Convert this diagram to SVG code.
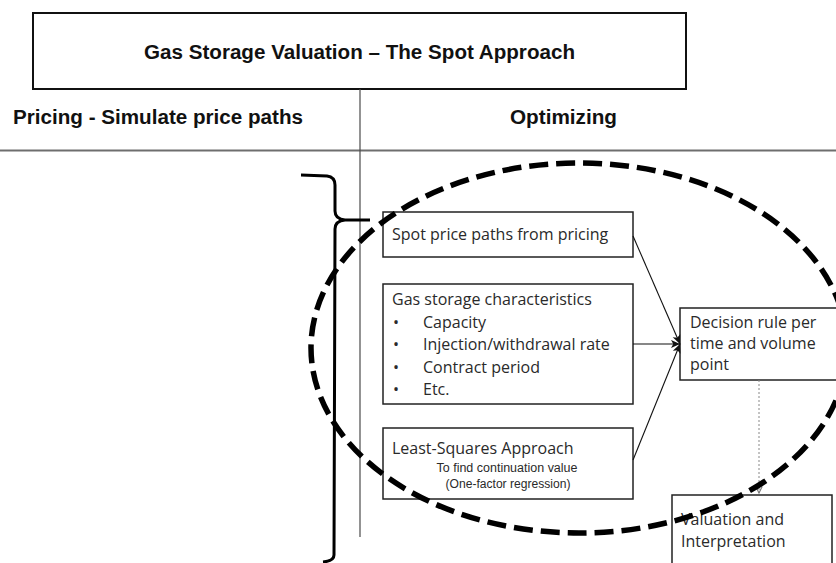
<svg xmlns="http://www.w3.org/2000/svg" width="836" height="563" viewBox="0 0 836 563">
  <defs>
    <style>
      .box { fill: #ffffff; stroke: #222222; stroke-width: 1.5; }
      .head { font-family: "Liberation Sans", Arial, sans-serif; font-weight: bold; font-size: 20px; fill: #111111; }
      .txt { font-family: "Open Sans", "Liberation Sans", sans-serif; font-size: 16px; fill: #2a2a2a; }
      .small { font-family: "Liberation Sans", Arial, sans-serif; font-size: 12.5px; fill: #2a2a2a; }
      .link { stroke: #111111; stroke-width: 1.1; fill: none; }
    </style>
    <marker id="arrow" viewBox="0 0 10 10" refX="10" refY="5" markerWidth="9" markerHeight="9" markerUnits="userSpaceOnUse" orient="auto">
      <path d="M0,0.5 L10,5 L0,9.5 L2.5,5 Z" fill="#111111"/>
    </marker>
    <marker id="chev" viewBox="0 0 10 10" refX="9" refY="5" markerWidth="8" markerHeight="8" markerUnits="userSpaceOnUse" orient="auto">
      <path d="M1,1 L9,5 L1,9" fill="none" stroke="#777777" stroke-width="1.4"/>
    </marker>
  </defs>
  <rect width="836" height="563" fill="#ffffff"/>

  <!-- header and column titles -->
  <g id="title">
    <rect x="33" y="13" width="653" height="76" fill="#ffffff" stroke="#111111" stroke-width="2"/>
    <text class="head" x="359.5" y="59" text-anchor="middle" textLength="431" lengthAdjust="spacingAndGlyphs">Gas Storage Valuation – The Spot Approach</text>
  </g>
  <g id="col-pricing">
    <text class="head" x="13" y="124" textLength="290" lengthAdjust="spacingAndGlyphs">Pricing - Simulate price paths</text>
  </g>
  <g id="col-optimizing">
    <text class="head" x="510" y="124" textLength="107" lengthAdjust="spacingAndGlyphs">Optimizing</text>
  </g>

  <!-- dividers -->
  <g id="dividers">
    <line x1="0" y1="150.5" x2="836" y2="150.5" stroke="#6e6e6e" stroke-width="1.8"/>
    <line x1="360" y1="89" x2="360" y2="537" stroke="#4a4a4a" stroke-width="1.2"/>
  </g>

  <!-- curly brace -->
  <g id="brace">
    <path d="M301,175 L327,176 Q335,177 335,185 L335,211 Q335,219 345,220 L370,220 M345,220 Q335,221 335,229 L334,555 Q334,561 323,562" fill="none" stroke="#000000" stroke-width="3"/>
  </g>

  <!-- input and result boxes -->
  <g id="spot-paths">
    <rect class="box" x="383" y="212" width="250" height="45"/>
    <text class="txt" x="392" y="240">Spot price paths from pricing</text>
  </g>
  <g id="storage">
    <rect class="box" x="383" y="284" width="250" height="120"/>
    <text class="txt" x="392" y="305">Gas storage characteristics</text>
    <text class="txt" x="393" y="327.5">•</text>
    <text class="txt" x="423" y="327.5">Capacity</text>
    <text class="txt" x="393" y="350">•</text>
    <text class="txt" x="423" y="350">Injection/withdrawal rate</text>
    <text class="txt" x="393" y="372.5">•</text>
    <text class="txt" x="423" y="372.5">Contract period</text>
    <text class="txt" x="393" y="395">•</text>
    <text class="txt" x="423" y="395">Etc.</text>
  </g>
  <g id="least-squares">
    <rect class="box" x="383" y="428" width="250" height="71"/>
    <text class="txt" x="392" y="454">Least-Squares Approach</text>
    <text class="small" x="507" y="471.5" text-anchor="middle" textLength="141" lengthAdjust="spacingAndGlyphs">To find continuation value</text>
    <text class="small" x="508" y="488" text-anchor="middle" textLength="125" lengthAdjust="spacingAndGlyphs">(One-factor regression)</text>
  </g>
  <g id="decision">
    <rect class="box" x="680" y="308" width="170" height="72"/>
    <text class="txt" x="690" y="328">Decision rule per</text>
    <text class="txt" x="690" y="349">time and volume</text>
    <text class="txt" x="690" y="370">point</text>
  </g>
  <g id="valuation">
    <rect class="box" x="672" y="495" width="160" height="80"/>
    <text class="txt" x="681" y="525">Valuation and</text>
    <text class="txt" x="681" y="546.5">Interpretation</text>
  </g>

  <!-- connectors -->
  <g id="connectors">
    <line class="link" x1="633" y1="236" x2="680" y2="344" marker-end="url(#arrow)"/>
    <line class="link" x1="633" y1="344" x2="680" y2="344" marker-end="url(#arrow)"/>
    <line class="link" x1="633" y1="460" x2="680" y2="344" marker-end="url(#arrow)"/>
    <line x1="759" y1="380" x2="759" y2="493" stroke="#888888" stroke-width="1" stroke-dasharray="2 2" marker-end="url(#chev)"/>
  </g>

  <!-- optimisation scope outline -->
  <g id="scope">
    <ellipse cx="579" cy="348" rx="268" ry="185" fill="none" stroke="#000000" stroke-width="5.5" stroke-dasharray="19 8"/>
  </g>
</svg>
